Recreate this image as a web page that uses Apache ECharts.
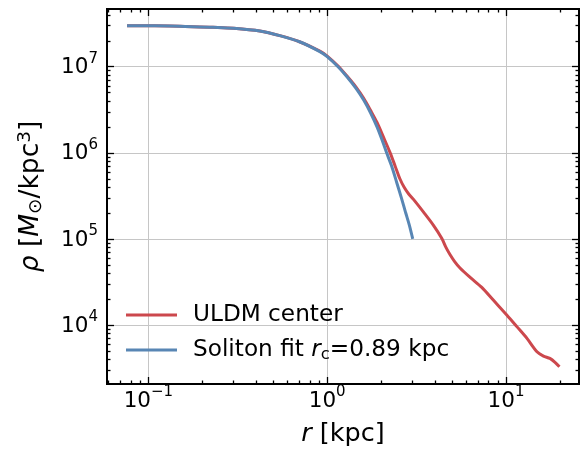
<!DOCTYPE html>
<html>
<head>
<meta charset="utf-8">
<script src="https://cdn.jsdelivr.net/npm/echarts@6/dist/echarts.min.js"></script>
<style>
  html, body { margin: 0; padding: 0; background: #fff; }
  #chart { width: 583px; height: 456px; }
</style>
</head>
<body>
<div id="chart"></div>
<script>
// ULDM center density profile (r in kpc, rho in Msun/kpc^3)
const uldmR = [0.076, 0.1, 0.15, 0.23, 0.3, 0.42, 0.55, 0.7, 0.91, 1.0, 1.15, 1.29, 1.45, 1.6, 1.75, 1.9, 2.07, 2.25, 2.4, 2.55, 2.7, 2.85, 3.03, 3.45, 3.93, 4.37, 4.6, 4.86, 5.15, 5.53, 6.3, 7.32, 8.49, 10.1, 11.5, 13.1, 14.9, 16.2, 17.6, 18.8, 19.9]
const uldmRho = [3.0e7, 2.99e7, 2.96e7, 2.87e7, 2.8e7, 2.6e7, 2.28e7, 1.95e7, 1.52e7, 1.33e7, 1.02e7, 7.8e6, 5.8e6, 4.3e6, 3.1e6, 2.25e6, 1.5e6, 1.0e6, 7.0e5, 5.0e5, 3.95e5, 3.35e5, 2.9e5, 2.06e5, 1.44e5, 1.02e5, 8.1e4, 6.6e4, 5.5e4, 4.6e4, 3.58e4, 2.74e4, 1.95e4, 1.31e4, 9.6e3, 7.0e3, 4.9e3, 4.37e3, 4.1e3, 3.7e3, 3.28e3]

// soliton fit, r_c = 0.89 kpc
const solR = [0.076, 0.1, 0.15, 0.23, 0.3, 0.42, 0.55, 0.7, 0.91, 1.0, 1.15, 1.29, 1.45, 1.6, 1.75, 1.9, 2.03, 2.15, 2.3, 2.45, 2.6, 2.75, 2.88, 3.01]
const solRho = [3.0e7, 2.99e7, 2.96e7, 2.87e7, 2.8e7, 2.6e7, 2.28e7, 1.95e7, 1.5e7, 1.31e7, 1.0e7, 7.65e6, 5.6e6, 4.1e6, 2.9e6, 2.0e6, 1.4e6, 1.0e6, 6.9e5, 4.5e5, 3.0e5, 2.0e5, 1.45e5, 1.0e5]

const xMajor = [0.1, 1, 10]
const xMinor = [0.06, 0.07, 0.08, 0.09, 0.2, 0.3, 0.4, 0.5, 0.6, 0.7, 0.8, 0.9, 2, 3, 4, 5, 6, 7, 8, 9, 20]
const yMajor = [1e4, 1e5, 1e6, 1e7]
const yMinor = [3e3, 4e3, 5e3, 6e3, 7e3, 8e3, 9e3, 2e4, 3e4, 4e4, 5e4, 6e4, 7e4, 8e4, 9e4,
  2e5, 3e5, 4e5, 5e5, 6e5, 7e5, 8e5, 9e5, 2e6, 3e6, 4e6, 5e6, 6e6, 7e6, 8e6, 9e6, 2e7, 3e7, 4e7]

const X_MIN = 0.0587, X_MAX = 25.6
const Y_MIN = 2.07e3, Y_MAX = 4.68e7
const FONT = 'DejaVu Sans'

function pow10Label(v) {
  const e = Math.round(Math.log10(v))
  return '{a|10}{b|' + String(e).replace('-', '\u2212') + '}'
}

const labelRich = {
  a: { fontSize: 21.5, fontFamily: FONT, color: '#000', lineHeight: 24, verticalAlign: 'bottom' },
  b: { fontSize: 15, fontFamily: FONT, color: '#000', lineHeight: 15, verticalAlign: 'bottom', padding: [0, 0, 12, 0] }
}

function makeAxis(dim, pos, ticks, len, main) {
  const ax = {
    type: 'log',
    logBase: 10,
    position: pos,
    min: dim === 'x' ? X_MIN : Y_MIN,
    max: dim === 'x' ? X_MAX : Y_MAX,
    axisLine: { show: true, onZero: false, lineStyle: { color: '#000', width: 2 } },
    axisTick: { show: true, inside: true, length: len, customValues: ticks, lineStyle: { color: '#000', width: 1.3 } },
    axisLabel: { show: false },
    splitLine: { show: false },
    minorTick: { show: false },
    minorSplitLine: { show: false }
  }
  if (main) {
    ax.splitLine = { show: true, lineStyle: { color: '#c6c6c6', width: 1 } }
    ax.axisLabel = {
      show: true,
      customValues: ticks,
      margin: dim === 'x' ? 4 : 9,
      formatter: pow10Label,
      rich: labelRich
    }
  }
  return ax
}

const chart = echarts.init(document.getElementById('chart'))

const xAxes = [
  makeAxis('x', 'bottom', xMajor, 7, true),
  makeAxis('x', 'bottom', xMinor, 3.5, false),
  makeAxis('x', 'top', xMajor, 7, false),
  makeAxis('x', 'top', xMinor, 3.5, false)
]
xAxes[0].name = '{i|r} [kpc]'
xAxes[0].nameLocation = 'middle'
xAxes[0].nameGap = 37
xAxes[0].nameTextStyle = {
  fontSize: 25.5, fontFamily: FONT, color: '#000',
  rich: { i: { fontSize: 25.5, fontFamily: FONT, fontStyle: 'italic', color: '#000' } }
}

const yAxes = [
  makeAxis('y', 'left', yMajor, 7, true),
  makeAxis('y', 'left', yMinor, 3.5, false),
  makeAxis('y', 'right', yMajor, 7, false),
  makeAxis('y', 'right', yMinor, 3.5, false)
]
yAxes[0].name = '{i|\u03c1} [{i|M}{sub|\u2299}/kpc{sup|3}]'
yAxes[0].nameLocation = 'middle'
yAxes[0].nameRotate = 90
yAxes[0].nameGap = 61
yAxes[0].nameTextStyle = {
  fontSize: 26.5, fontFamily: FONT, color: '#000', lineHeight: 30,
  rich: {
    i: { fontSize: 26.5, fontFamily: FONT, fontStyle: 'italic', color: '#000', lineHeight: 30 },
    sub: { fontSize: 18.5, fontFamily: FONT, color: '#000', lineHeight: 18, verticalAlign: 'bottom' },
    sup: { fontSize: 18.5, fontFamily: FONT, color: '#000', lineHeight: 18, verticalAlign: 'top' }
  }
}

chart.setOption({
  animation: false,
  grid: { left: 107, right: 4, top: 9, bottom: 72, containLabel: false },
  xAxis: xAxes,
  yAxis: yAxes,
  legend: {
    orient: 'vertical',
    left: 126,
    top: 302,
    padding: 0,
    icon: 'rect',
    itemWidth: 51,
    itemHeight: 3,
    itemGap: 9,
    data: ['ULDM center', 'Soliton fit'],
    formatter: function (name) {
      if (name === 'Soliton fit') return '{sp|}Soliton fit {i|r}{sub|c}=0.89 kpc'
      return '{sp|}' + name
    },
    textStyle: {
      fontSize: 23.2, fontFamily: FONT, color: '#000', lineHeight: 26,
      rich: {
        sp: { width: 11 },
        i: { fontSize: 23.2, fontFamily: FONT, fontStyle: 'italic', color: '#000', lineHeight: 26 },
        sub: { fontSize: 16.5, fontFamily: FONT, color: '#000', lineHeight: 16, verticalAlign: 'bottom' }
      }
    }
  },
  series: [
    {
      name: 'ULDM center',
      type: 'line',
      symbol: 'none',
      smooth: 0.3,
      xAxisIndex: 0,
      yAxisIndex: 0,
      lineStyle: { color: '#cc484d', width: 3 },
      itemStyle: { color: '#cc484d' },
      data: uldmR.map((r, i) => [r, uldmRho[i]])
    },
    {
      name: 'Soliton fit',
      type: 'line',
      symbol: 'none',
      smooth: 0.3,
      xAxisIndex: 0,
      yAxisIndex: 0,
      lineStyle: { color: '#5886b4', width: 3 },
      itemStyle: { color: '#5886b4' },
      data: solR.map((r, i) => [r, solRho[i]])
    }
  ]
})
</script>
</body>
</html>
